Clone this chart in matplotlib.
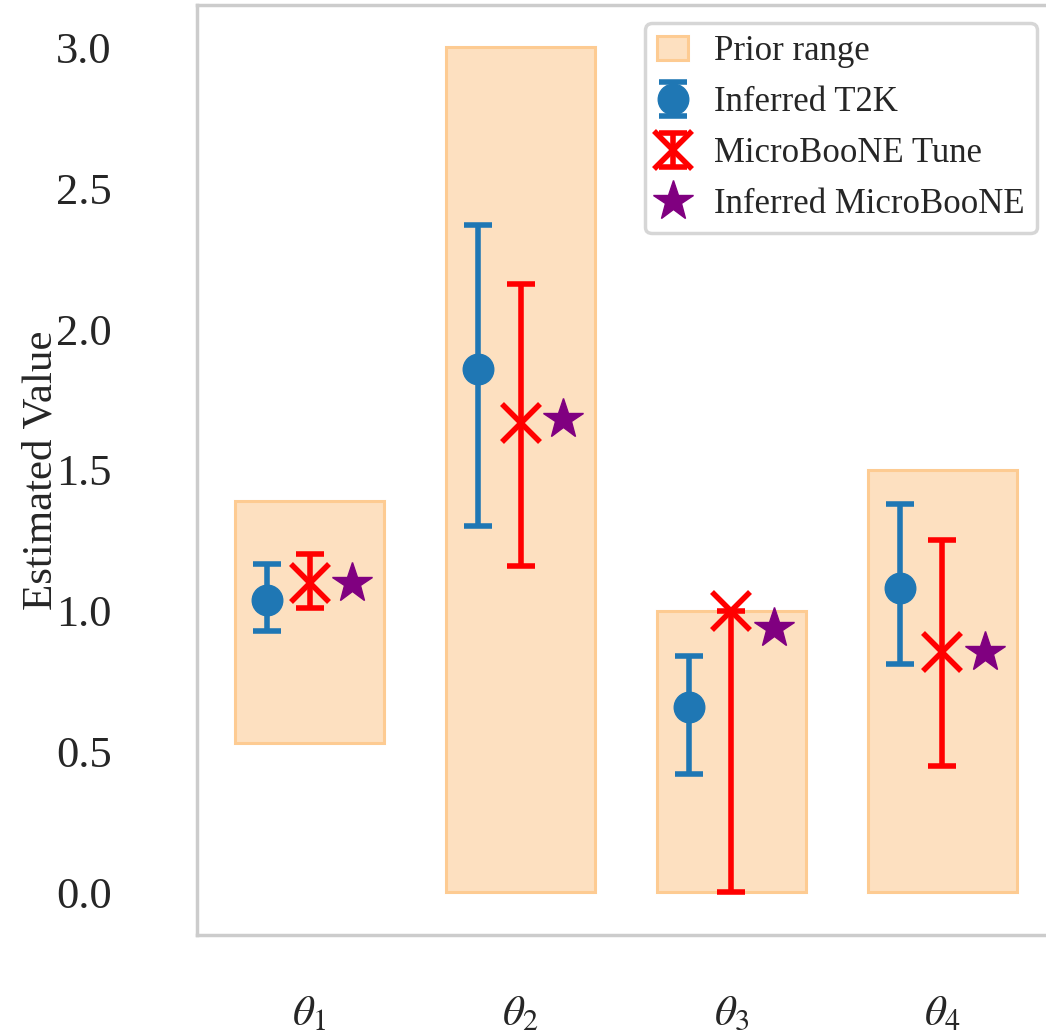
import matplotlib
matplotlib.use("Agg")
import matplotlib.pyplot as plt
import numpy as np
from matplotlib.patches import Patch

plt.rcParams['font.family'] = ['Liberation Serif', 'DejaVu Serif']
plt.rcParams['mathtext.fontset'] = 'stix'

params = [r'$\theta_1$', r'$\theta_2$', r'$\theta_3$', r'$\theta_4$']
prior_low = [0.53, 0.0, 0.0, 0.0]
prior_high = [1.39, 3.0, 1.0, 1.5]

t2k_val = [1.04, 1.86, 0.66, 1.08]
t2k_lo = [0.93, 1.30, 0.42, 0.81]
t2k_hi = [1.165, 2.37, 0.84, 1.38]

tune_val = [1.10, 1.665, 1.0, 0.855]
tune_lo = [1.01, 1.16, 0.0, 0.45]
tune_hi = [1.20, 2.16, 1.0, 1.25]

ub_val = [1.10, 1.68, 0.94, 0.855]

text_c = '#262626'
spine_c = '#cccccc'
prior_fc = '#fde0c0'
prior_ec = '#fdcb92'

fig = plt.figure(figsize=(10.46, 10.34), dpi=100)
ax = fig.add_axes([0.188, 0.096, 0.83, 0.899])

x = np.arange(len(params))
lo = np.array(prior_low)
hi = np.array(prior_high)
ax.bar(x, hi - lo, bottom=lo, width=0.71, color=prior_fc, edgecolor=prior_ec, linewidth=2.2, zorder=1)

t2k_err = [np.array(t2k_val) - np.array(t2k_lo), np.array(t2k_hi) - np.array(t2k_val)]
tune_err = [np.array(tune_val) - np.array(tune_lo), np.array(tune_hi) - np.array(tune_val)]

eb1 = ax.errorbar(x - 0.2, t2k_val, yerr=t2k_err, fmt='o', color='#1f77b4', markersize=22,
                  elinewidth=4, capsize=10, capthick=4, zorder=3)
eb2 = ax.errorbar(x, tune_val, yerr=tune_err, fmt='x', color='red', markersize=27, markeredgewidth=4,
                  elinewidth=4, capsize=10, capthick=4, zorder=3)
st, = ax.plot(x + 0.2, ub_val, '*', color='purple', markersize=30, linestyle='none', zorder=3)

ax.set_xlim(-0.535, 3.58)
ax.set_ylim(-0.15, 3.15)
ax.set_xticks(x)
ax.set_xticklabels(params)
ax.set_yticks([0.0, 0.5, 1.0, 1.5, 2.0, 2.5, 3.0])
ax.set_yticklabels(['0.0', '0.5', '1.0', '1.5', '2.0', '2.5', '3.0'])
ax.tick_params(axis='y', length=0, pad=61, labelsize=32, labelcolor=text_c)
ax.tick_params(axis='x', length=0, pad=44, labelsize=31, labelcolor=text_c)
ax.set_ylabel('Estimated Value', fontsize=31, color=text_c, labelpad=-3)

for s in ['left', 'bottom', 'top']:
    ax.spines[s].set_color(spine_c)
    ax.spines[s].set_linewidth(2.5)
ax.spines['right'].set_visible(False)

leg = ax.legend(
    [Patch(facecolor=prior_fc, edgecolor=prior_ec, linewidth=2.2), eb1, eb2, st],
    ['Prior range', 'Inferred T2K', 'MicroBooNE Tune', 'Inferred MicroBooNE'],
    loc='upper right', bbox_to_anchor=(1037 / 1046, 1 - 23 / 1034), bbox_transform=fig.transFigure,
    borderaxespad=0, fontsize=25, frameon=True, markerscale=1.0,
    handlelength=0.9, handletextpad=0.75, labelspacing=0.52, borderpad=0.35)
leg.get_frame().set_edgecolor(spine_c)
leg.get_frame().set_linewidth(2.5)
for t in leg.get_texts():
    t.set_color(text_c)

fig.savefig('out.png', dpi=100)
